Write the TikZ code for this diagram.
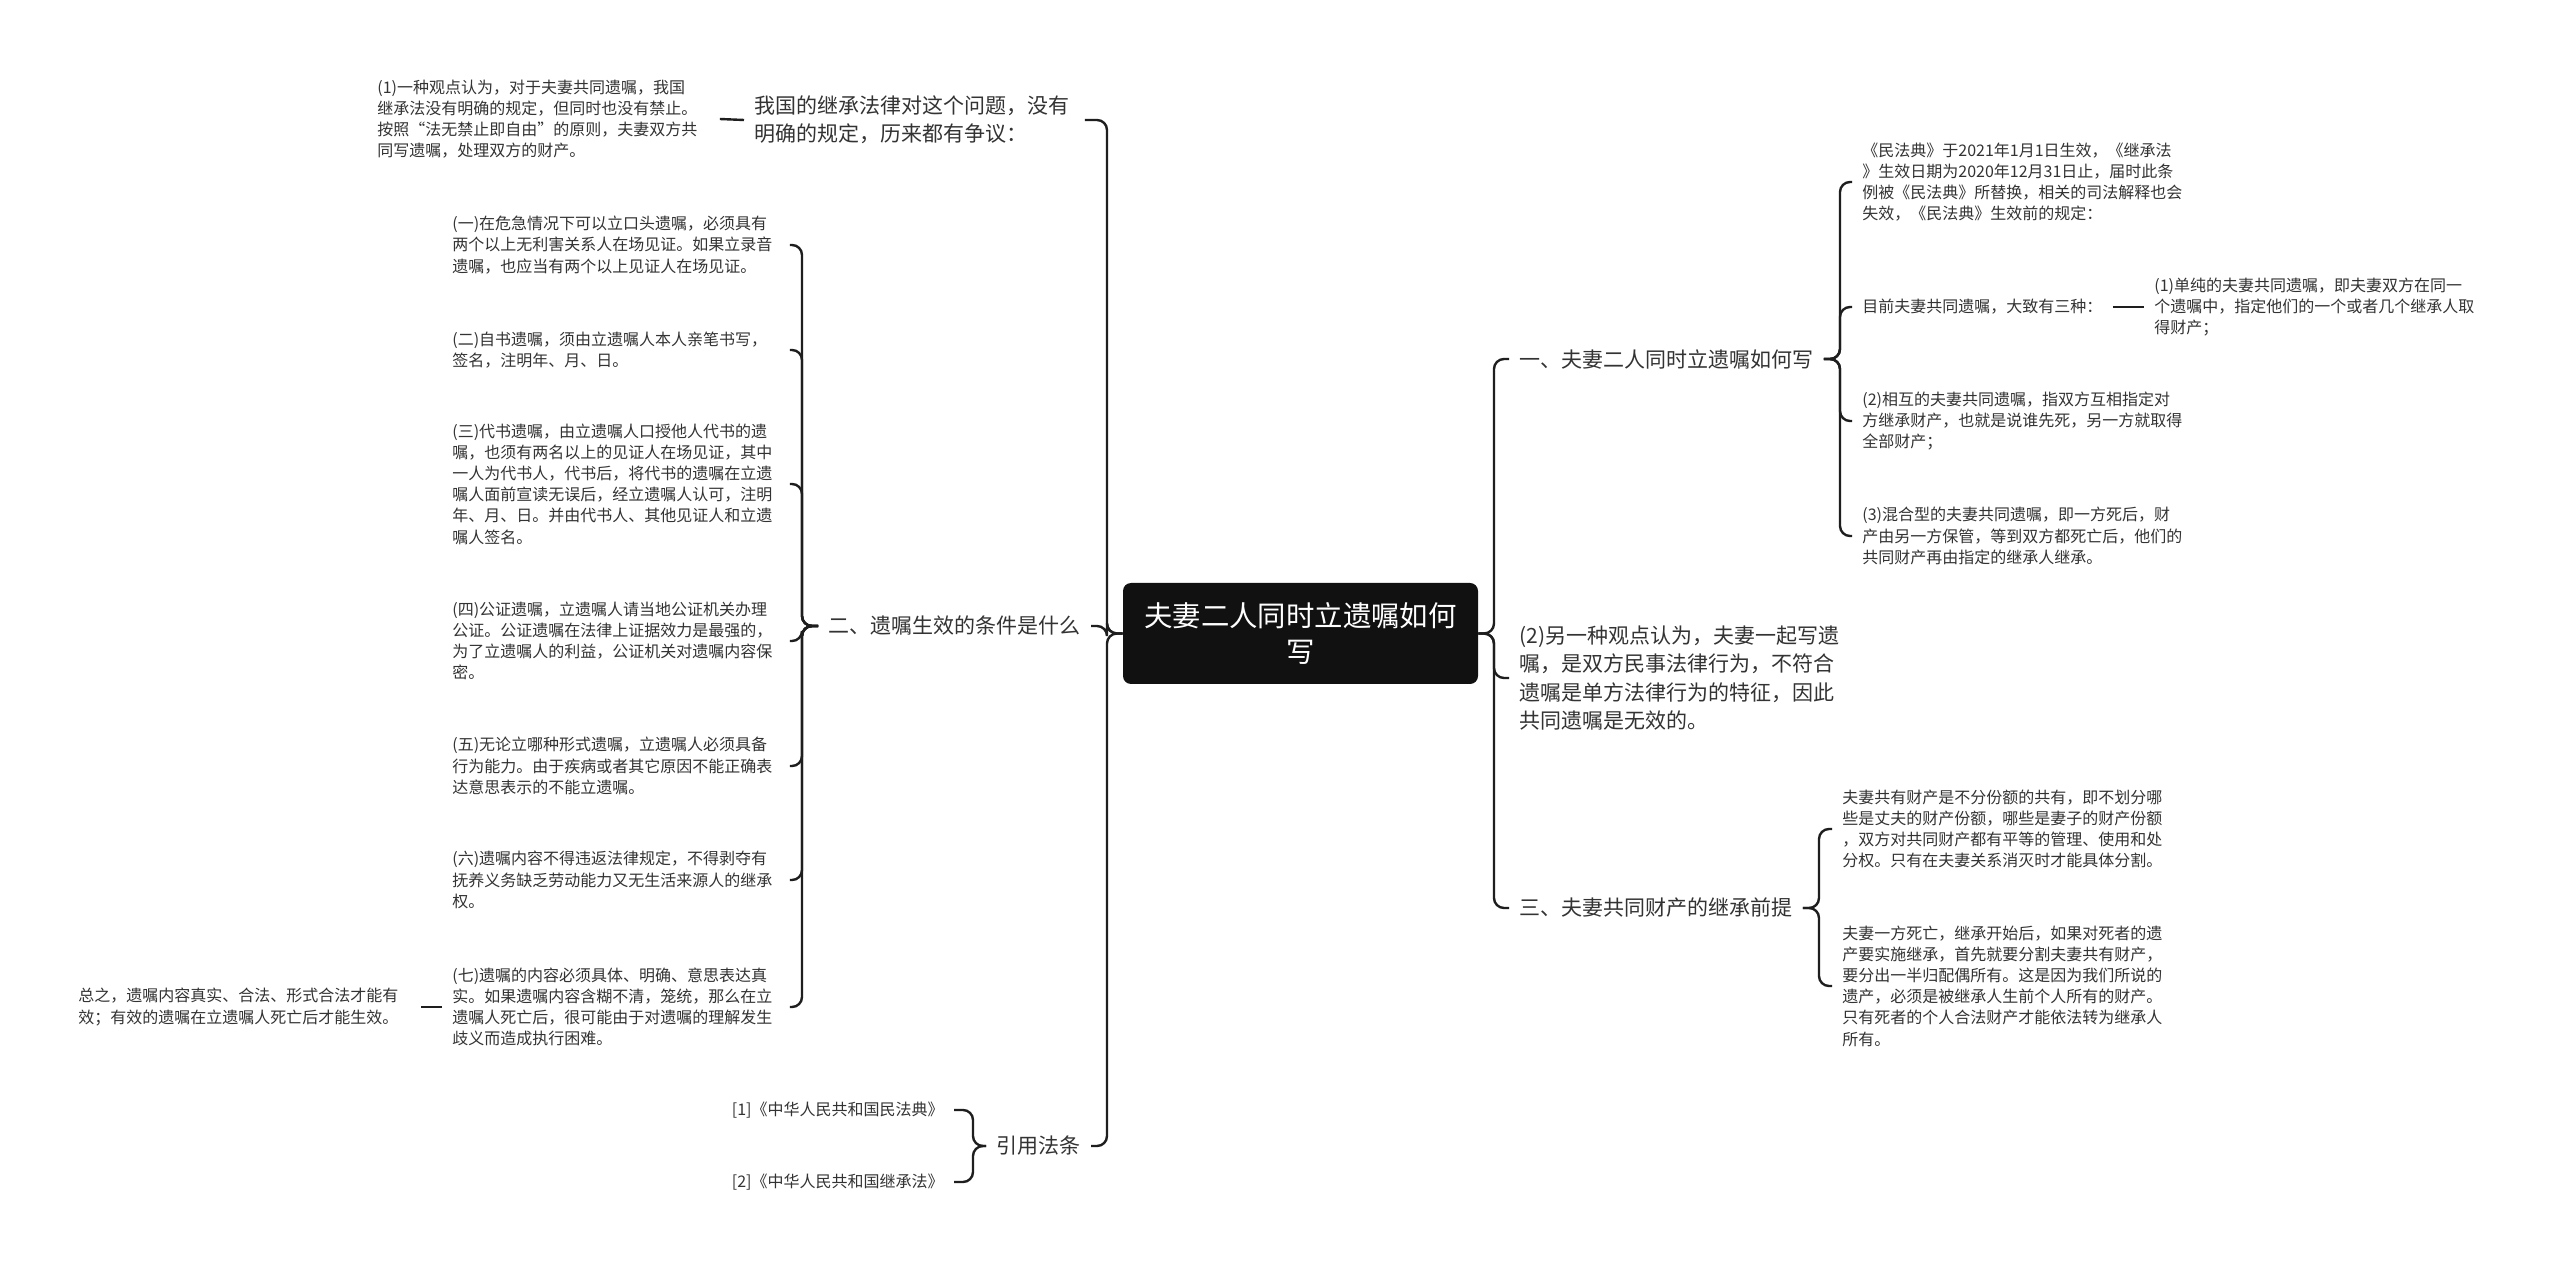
\documentclass[tikz,border=0pt]{standalone}
\usepackage{fontspec}
\setmainfont{Noto Sans CJK SC}
\definecolor{txt}{HTML}{333333}
\definecolor{ln}{HTML}{1E1E1E}
\definecolor{rootfill}{HTML}{111111}
\begin{document}
\begin{tikzpicture}[x=0.5pt,y=-0.5pt,
  conn/.style={draw=ln,line width=1.2pt,rounded corners=5pt},
  base/.style={text=txt,align=left,inner xsep=5pt,inner ysep=1pt},
  sm/.style={base,font=\fontsize{8}{10.6}\selectfont},
  md/.style={base,font=\fontsize{10.5}{14.2}\selectfont},
  rootbox/.style={fill=rootfill,text=white,rounded corners=4pt,align=center,
    minimum width=177.5pt,minimum height=50.5pt,inner sep=0pt,
    font=\fontsize{14.2}{18}\selectfont}]
\fill[white] (0,0) rectangle (2560,1272);
\useasboundingbox (0,0) rectangle (2560,1272);

% spine coordinates
\coordinate (sL) at (1107,0);
\coordinate (sL2) at (802,0);
\coordinate (sL3) at (973,0);
\coordinate (sR) at (1494,0);
\coordinate (sR1) at (1840,0);
\coordinate (sR3) at (1819,0);

% root
\node[rootbox] (root) at (1300.5,633.5) {夫妻二人同时立遗嘱如何\\写};

% left side
\node[md,anchor=west,text width=160pt] (L1a) at (744,120) {我国的继承法律对这个问题，没有\\明确的规定，历来都有争议：};
\node[sm,anchor=west,text width=166pt] (t1) at (367,119) {(1)一种观点认为，对于夫妻共同遗嘱，我国\\继承法没有明确的规定，但同时也没有禁止。\\按照“法无禁止即自由”的原则，夫妻双方共\\同写遗嘱，处理双方的财产。};

\node[md,anchor=east] (L2) at (1091,626) {二、遗嘱生效的条件是什么};
\node[sm,anchor=west,text width=163.5pt] (c1) at (442,245) {(一)在危急情况下可以立口头遗嘱，必须具有\\两个以上无利害关系人在场见证。如果立录音\\遗嘱，也应当有两个以上见证人在场见证。};
\node[sm,anchor=west,text width=163.5pt] (c2) at (442,350) {(二)自书遗嘱，须由立遗嘱人本人亲笔书写，\\签名，注明年、月、日。};
\node[sm,anchor=west,text width=163.5pt] (c3) at (442,484) {(三)代书遗嘱，由立遗嘱人口授他人代书的遗\\嘱，也须有两名以上的见证人在场见证，其中\\一人为代书人，代书后，将代书的遗嘱在立遗\\嘱人面前宣读无误后，经立遗嘱人认可，注明\\年、月、日。并由代书人、其他见证人和立遗\\嘱人签名。};
\node[sm,anchor=west,text width=163.5pt] (c4) at (442,641) {(四)公证遗嘱，立遗嘱人请当地公证机关办理\\公证。公证遗嘱在法律上证据效力是最强的，\\为了立遗嘱人的利益，公证机关对遗嘱内容保\\密。};
\node[sm,anchor=west,text width=163.5pt] (c5) at (442,766) {(五)无论立哪种形式遗嘱，立遗嘱人必须具备\\行为能力。由于疾病或者其它原因不能正确表\\达意思表示的不能立遗嘱。};
\node[sm,anchor=west,text width=163.5pt] (c6) at (442,880) {(六)遗嘱内容不得违返法律规定，不得剥夺有\\抚养义务缺乏劳动能力又无生活来源人的继承\\权。};
\node[sm,anchor=west,text width=163.5pt] (c7) at (442,1007) {(七)遗嘱的内容必须具体、明确、意思表达真\\实。如果遗嘱内容含糊不清，笼统，那么在立\\遗嘱人死亡后，很可能由于对遗嘱的理解发生\\歧义而造成执行困难。};
\node[sm,anchor=west,text width=166pt] (zz) at (68,1007) {总之，遗嘱内容真实、合法、形式合法才能有\\效；有效的遗嘱在立遗嘱人死亡后才能生效。};

\node[md,anchor=east] (L3) at (1091,1146) {引用法条};
\node[sm,anchor=east] (cit1) at (954,1110) {[1]《中华人民共和国民法典》};
\node[sm,anchor=east] (cit2) at (954,1182) {[2]《中华人民共和国继承法》};

% right side
\node[md,anchor=west] (R1) at (1509,359) {一、夫妻二人同时立遗嘱如何写};
\node[sm,anchor=west,text width=170pt] (r1a) at (1852,182) {《民法典》于2021年1月1日生效，《继承法\\》生效日期为2020年12月31日止，届时此条\\例被《民法典》所替换，相关的司法解释也会\\失效，《民法典》生效前的规定：};
\node[sm,anchor=west] (r1b) at (1852,307) {目前夫妻共同遗嘱，大致有三种：};
\node[sm,anchor=west,text width=166pt] (r1b1) at (2144,307) {(1)单纯的夫妻共同遗嘱，即夫妻双方在同一\\个遗嘱中，指定他们的一个或者几个继承人取\\得财产；};
\node[sm,anchor=west,text width=170pt] (r1c) at (1852,421) {(2)相互的夫妻共同遗嘱，指双方互相指定对\\方继承财产，也就是说谁先死，另一方就取得\\全部财产；};
\node[sm,anchor=west,text width=170pt] (r1d) at (1852,536) {(3)混合型的夫妻共同遗嘱，即一方死后，财\\产由另一方保管，等到双方都死亡后，他们的\\共同财产再由指定的继承人继承。};

\node[md,anchor=west,text width=162pt] (R2) at (1509,678) {(2)另一种观点认为，夫妻一起写遗\\嘱，是双方民事法律行为，不符合\\遗嘱是单方法律行为的特征，因此\\共同遗嘱是无效的。};

\node[md,anchor=west] (R3) at (1509,908) {三、夫妻共同财产的继承前提};
\node[sm,anchor=west,text width=166pt] (r3a) at (1832,829) {夫妻共有财产是不分份额的共有，即不划分哪\\些是丈夫的财产份额，哪些是妻子的财产份额\\，双方对共同财产都有平等的管理、使用和处\\分权。只有在夫妻关系消灭时才能具体分割。};
\node[sm,anchor=west,text width=166pt] (r3b) at (1832,986) {夫妻一方死亡，继承开始后，如果对死者的遗\\产要实施继承，首先就要分割夫妻共有财产，\\要分出一半归配偶所有。这是因为我们所说的\\遗产，必须是被继承人生前个人所有的财产。\\只有死者的个人合法财产才能依法转为继承人\\所有。};

% connectors: root to left
\foreach \n in {L1a,L2,L3}
  \draw[conn] (root.west) -- (root.west -| sL) |- (\n.east);
\draw[conn] (L1a.west) -- (t1.east);
\foreach \n in {c1,c2,c3,c4,c5,c6,c7}
  \draw[conn] (L2.west) -- (L2.west -| sL2) |- (\n.east);
\draw[conn] (c7.west) -- (zz.east);
\foreach \n in {cit1,cit2}
  \draw[conn] (L3.west) -- (L3.west -| sL3) |- (\n.east);

% connectors: root to right
\foreach \n in {R1,R2,R3}
  \draw[conn] (root.east) -- (root.east -| sR) |- (\n.west);
\foreach \n in {r1a,r1b,r1c,r1d}
  \draw[conn] (R1.east) -- (R1.east -| sR1) |- (\n.west);
\draw[conn] (r1b.east) -- (r1b1.west);
\foreach \n in {r3a,r3b}
  \draw[conn] (R3.east) -- (R3.east -| sR3) |- (\n.west);
\end{tikzpicture}
\end{document}
